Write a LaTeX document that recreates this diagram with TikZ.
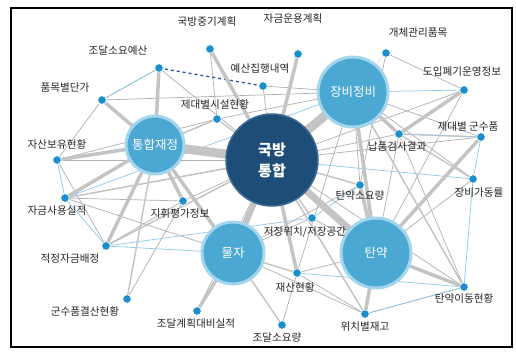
\documentclass[tikz,border=0pt]{standalone}
\usepackage{fontspec}
\setmainfont{Noto Sans CJK KR}
\definecolor{navy}{HTML}{1E4D78}
\definecolor{navyring}{HTML}{3B6A94}
\definecolor{subfill}{HTML}{4BA8D3}
\definecolor{subring}{HTML}{A3D5EC}
\definecolor{dotblue}{HTML}{1B8FCC}
\definecolor{edgegray}{HTML}{C4C4C4}
\definecolor{lineblue}{HTML}{8EC8E8}
\definecolor{labelgray}{HTML}{262626}
\definecolor{dashblue}{HTML}{2F4FA0}
\pgfdeclarelayer{background}
\pgfdeclarelayer{paper}
\pgfsetlayers{paper,background,main}
\tikzset{
  bigc/.style={circle, fill=navy, draw=navyring, line width=1.5pt, minimum size=92pt, inner sep=0pt, text=white, font=\fontsize{15}{21}\selectfont\bfseries, align=center},
  subc/.style={circle, fill=subfill, draw=subring, line width=3pt, inner sep=0pt, text=white, font=\fontsize{12.5}{14}\selectfont},
  dotn/.style={circle, fill=dotblue, draw=white, line width=0.6pt, minimum size=8.5pt, inner sep=0pt},
  lab/.style={text=labelgray, font=\fontsize{10.6}{12}\selectfont, inner sep=1pt},
  thk/.style={draw=edgegray, line width=9pt},
  med/.style={draw=edgegray, line width=3.5pt},
  thn/.style={draw=edgegray, line width=1.4pt},
  hair/.style={draw=edgegray!90!black, line width=0.7pt},
  bl/.style={draw=lineblue, line width=0.7pt},
  dotl/.style={draw=edgegray, line width=1pt, dotted},
  bdot/.style={draw=lineblue, line width=1pt, dotted}
}
\begin{document}
\begin{tikzpicture}[x=1pt,y=-1pt]
\useasboundingbox (0,0) rectangle (516,354);
\begin{pgfonlayer}{paper}
\fill[white] (0,0) rectangle (516,354);
\end{pgfonlayer}
\draw[black, line width=2pt] (11,8) rectangle (512,347);

% main circles
\node[bigc] (C) at (272,160) {국방\\통합};
\node[subc, minimum size=58pt] (TJ) at (155,145) {통합재정};
\node[subc, minimum size=70pt] (JB) at (353,92) {장비정비};
\node[subc, minimum size=62pt] (MJ) at (233,253) {물자};
\node[subc, minimum size=70pt] (TY) at (376,253) {탄약};

% dots
\node[dotn] (a1) at (210,49) {};
\node[dotn] (a2) at (159,68) {};
\node[dotn] (a3) at (102,100) {};
\node[dotn] (a4) at (57,160) {};
\node[dotn] (a5) at (217,119) {};
\node[dotn] (a6) at (263,86) {};
\node[dotn] (a7) at (298,54) {};
\node[dotn] (a8) at (386,53) {};
\node[dotn] (a9) at (464,90) {};
\node[dotn] (a10) at (481,137) {};
\node[dotn] (a11) at (399,134) {};
\node[dotn] (a12) at (473,179) {};
\node[dotn] (a13) at (360,185) {};
\node[dotn] (a14) at (312,218) {};
\node[dotn] (a15) at (297,273) {};
\node[dotn] (a16) at (464,287) {};
\node[dotn] (a17) at (365,314) {};
\node[dotn] (a18) at (282,325) {};
\node[dotn] (a19) at (197,311) {};
\node[dotn] (a20) at (127,299) {};
\node[dotn] (a21) at (106,246) {};
\node[dotn] (a22) at (65,198) {};
\node[dotn] (a23) at (183,201) {};

% labels
\node[lab] (l1) at (207,21) {국방중기계획};
\node[lab] (l2) at (118,51) {조달소요예산};
\node[lab] (l3) at (65,88) {품목별단가};
\node[lab] (l4) at (57,144) {자산보유현황};
\node[lab] (l5) at (215,104) {제대별시설현황};
\node[lab] (l6) at (260,69) {예산집행내역};
\node[lab] (l7) at (293,18) {자금운용계획};
\node[lab] (l8) at (418,33) {개체관리품목};
\node[lab] (l9) at (462,72) {도입폐기운영정보};
\node[lab] (l10) at (468,127) {제대별 군수품};
\node[lab] (l11) at (397,147) {납품검사결과};
\node[lab] (l12) at (479,193) {장비가동률};
\node[lab] (l13) at (360,196) {탄약소요량};
\node[lab] (l14) at (305,232) {저장위치/저장공간};
\node[lab] (l15) at (295,287) {재산현황};
\node[lab] (l16) at (464,298) {탄약이동현황};
\node[lab] (l17) at (365,327) {위치별재고};
\node[lab] (l18) at (277,338) {조달소요량};
\node[lab] (l19) at (196,323) {조달계획대비실적};
\node[lab] (l20) at (85,311) {군수품결산현황};
\node[lab] (l21) at (70,259) {적정자금배정};
\node[lab] (l22) at (57,211) {자금사용실적};
\node[lab] (l23) at (180,213) {지휘평가정보};

\begin{pgfonlayer}{background}
% hair lines
\foreach \u/\v in {a3/JB, a3/a2, a3/a4, a4/C, a22/C, a5/TJ, a5/JB, a6/C, a6/JB, a23/C, a9/C, a16/JB, a16/a11, a17/MJ, a17/C, a12/JB, a10/C, a10/JB, a15/TY, a15/a17, a21/C, a22/a23, a4/a5, a1/a5, a2/C, a8/a9, a11/TY, a13/JB, a14/MJ, a16/C, a17/a16, a21/a23, a11/C, a8/a13, a9/TY, a12/TY, a15/JB, a19/C, a22/MJ, a14/TY, a13/MJ, a4/a21}
  \draw[hair] (\u.center) -- (\v.center);
\draw[hair] (a20.center) -- (a23.center);
\draw[hair] (a18.center) -- (a15.center);
% blue thin lines
\foreach \u/\v in {a9/JB, a10/a12, a12/a16, a21/MJ, a21/a22, a22/a4, a14/a13, a12/C, a3/a2, a15/a16, a17/a16, a22/JB, a21/a14}
  \draw[bl] (\u.center) -- (\v.center);
% thin gray
\foreach \u/\v in {a5/TJ, a5/C, a16/JB, a17/C, a15/MJ, a13/C, a14/C, a21/C, a22/C, a10/a11, a12/a11}
  \draw[thn] (\u.center) -- (\v.center);
\draw[thn] (a20.center) -- (TJ.center);
\draw[thn] (a18.center) -- (MJ.center);
\draw[dotl] (a8.center) -- (JB.center);
\draw[bdot] (a10.center) -- (a11.center);
\draw[dashblue, line width=1.3pt, dashed] (a2.center) -- (a6.center);
% medium
\foreach \u/\v in {a1/C, a7/C, a2/TJ, a3/TJ, a4/TJ, a22/TJ, a21/TJ, a23/TJ, a11/JB, a11/a9, a10/TY, a16/TY, a17/TY, a15/C, a19/MJ, JB/TY, TJ/MJ, a13/TY}
  \draw[med] (\u.center) -- (\v.center);
% thick
\draw[thk] (C.center) -- (TJ.center);
\draw[thk] (C.center) -- (JB.center);
\draw[thk, line width=7pt] (C.center) -- (TY.center);
\draw[thk, line width=6pt] (C.center) -- (MJ.center);
\end{pgfonlayer}
\end{tikzpicture}
\end{document}
